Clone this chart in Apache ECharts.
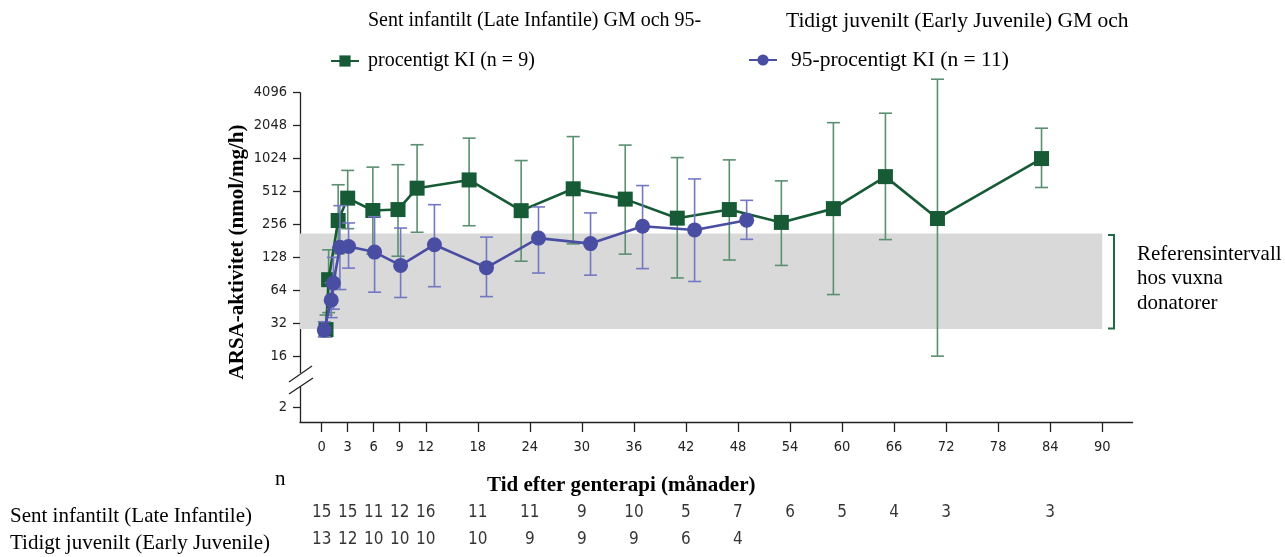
<!DOCTYPE html>
<html>
<head>
<meta charset="utf-8">
<script src="https://cdn.jsdelivr.net/npm/echarts@6/dist/echarts.min.js"></script>
<style>
  html, body { margin: 0; padding: 0; background: #fff; }
  #chart { width: 1285px; height: 557px; }
</style>
</head>
<body>
<div id="chart"></div>
<script>
// Sent infantilt (Late Infantile): tid (mån), GM och 95 % KI
var lateX  = [0.5, 0.8, 1.9, 3, 5.9, 8.8, 11, 17, 23, 29, 35, 41, 47, 53, 59, 65, 71, 83];
var lateGM = [28, 80, 278, 445, 343, 350, 549, 653, 342, 542, 436, 292, 350, 267, 357, 700, 290, 1024];
var lateLo = [24, 40, 138, 234, 137, 131, 217, 249, 118, 170, 137, 83, 121, 108, 58.5, 186, 16, 557];
var lateHi = [38, 150, 590, 798, 855, 900, 1370, 1574, 982, 1626, 1360, 1045, 996, 640, 2180, 2660, 5440, 1940];

// Tidigt juvenilt (Early Juvenile)
var earlyX  = [0.3, 1.1, 1.35, 2.1, 3.1, 6.1, 9.1, 13, 19, 25, 31, 37, 43, 49];
var earlyGM = [27.7, 52, 74.5, 158, 161, 143, 108, 167, 103, 192, 171, 246, 228, 280];
var earlyLo = [24, 36, 43, 65, 102, 61.5, 55, 69, 56, 92, 88, 101, 77, 187];
var earlyHi = [33, 75, 128, 380, 264, 301, 237, 388, 196, 370, 326, 580, 667, 425];

// referensintervall hos vuxna donatorer
var refLow = 28.4;
var refHigh = 211;

// axlar
var xTicks = [0, 3, 6, 9, 12, 18, 24, 30, 36, 42, 48, 54, 60, 66, 72, 78, 84, 90];
var yTicks = [2, 16, 32, 64, 128, 256, 512, 1024, 2048, 4096];

// antal (n) per tidpunkt
var nRows = ['Sent infantilt (Late Infantile)', 'Tidigt juvenilt (Early Juvenile)'];
var nLateX = [0, 3, 6, 9, 12, 18, 24, 30, 36, 42, 48, 54, 60, 66, 72, 84];
var nLate  = [15, 15, 11, 12, 16, 11, 11, 9, 10, 5, 7, 6, 5, 4, 3, 3];
var nEarlyX = [0, 3, 6, 9, 12, 18, 24, 30, 36, 42, 48];
var nEarly  = [13, 12, 10, 10, 10, 10, 9, 9, 9, 6, 4];

var nameLate = 'Sent infantilt (Late Infantile) GM och 95-procentigt KI (n = 9)';
var nameEarly = 'Tidigt juvenilt (Early Juvenile) GM och 95-procentigt KI (n = 11)';

var GREEN = '#165b36', GREEN_EB = '#5b8f70';
var BLUE = '#4a4ea3', BLUE_EB = '#7478c2';
var SERIF = "'Liberation Serif', 'Times New Roman', serif";
var NARROW = "'DejaVu Sans Condensed', 'Liberation Sans Narrow', 'Open Sans', sans-serif";

var breakPos = 2.44;   // där "2" ritas under axelbrottet
function lg(v) { return Math.log(v) / Math.LN2; }
function yPos(v) { return v >= 16 ? lg(v) : breakPos; }

function pts(xs, ys) {
    var out = [];
    for (var i = 0; i < xs.length; i++) out.push([xs[i], lg(ys[i])]);
    return out;
}
function bars(xs, lo, hi) {
    var out = [];
    for (var i = 0; i < xs.length; i++) out.push([xs[i], lg(lo[i]), lg(hi[i])]);
    return out;
}
function nPts(xs, vals, row) {
    var out = [];
    for (var i = 0; i < xs.length; i++) out.push([xs[i], row, vals[i]]);
    return out;
}
function errBar(color) {
    return function (params, api) {
        var x = api.value(0);
        var top = api.coord([x, api.value(2)]);
        var bot = api.coord([x, api.value(1)]);
        var w = 6.5;
        var st = { stroke: color, lineWidth: 1.6 };
        return {
            type: 'group',
            children: [
                { type: 'line', shape: { x1: top[0], y1: top[1], x2: bot[0], y2: bot[1] }, style: st },
                { type: 'line', shape: { x1: top[0] - w, y1: top[1], x2: top[0] + w, y2: top[1] }, style: st },
                { type: 'line', shape: { x1: bot[0] - w, y1: bot[1], x2: bot[0] + w, y2: bot[1] }, style: st }
            ]
        };
    };
}

var chart = echarts.init(document.getElementById('chart'));

var option = {
    animation: false,
    grid: [
        { left: 300, top: 92.7, width: 832.6, height: 329.3 },
        { left: 300, top: 503, width: 832.6, height: 64 }
    ],
    xAxis: [
        {
            type: 'value', gridIndex: 0, min: -2.5, max: 93.5,
            splitLine: { show: false },
            axisLine: { onZero: false, lineStyle: { color: '#222', width: 1.3 } },
            axisTick: { customValues: xTicks, length: 10, lineStyle: { color: '#222', width: 1.3 } },
            axisLabel: { customValues: xTicks, margin: 18, color: '#222', fontSize: 14.5, fontFamily: NARROW }
        },
        {
            type: 'value', gridIndex: 1, min: -2.5, max: 93.5, show: false
        }
    ],
    yAxis: [
        {
            type: 'value', gridIndex: 0, min: 2, max: 12,
            splitLine: { show: false },
            axisLine: { show: true, onZero: false, lineStyle: { color: '#222', width: 1.3 } },
            axisTick: { customValues: yTicks.map(yPos), length: 7, lineStyle: { color: '#222', width: 1.3 } },
            axisLabel: {
                customValues: yTicks.map(yPos), margin: 13, color: '#222', fontSize: 14.5, fontFamily: NARROW,
                formatter: function (v) { return v < 3 ? '2' : String(Math.round(Math.pow(2, v))); }
            }
        },
        {
            type: 'category', gridIndex: 1, data: nRows, inverse: true,
            axisLine: { show: false }, axisTick: { show: false }, splitLine: { show: false },
            axisLabel: { interval: 0, margin: 290, align: 'left', color: '#000', fontSize: 21, fontFamily: SERIF }
        }
    ],
    legend: [
        {
            data: [nameLate], left: 325, top: 46, itemWidth: 28, itemHeight: 14,
            formatter: function () { return 'procentigt KI (n = 9)'; },
            textStyle: { fontFamily: SERIF, fontSize: 20, color: '#000', padding: [0, 0, 0, 4] }
        },
        {
            data: [nameEarly], left: 743, top: 44, itemWidth: 28, itemHeight: 14,
            formatter: function () { return '95-procentigt KI (n = 11)'; },
            textStyle: { fontFamily: SERIF, fontSize: 21.5, color: '#000', padding: [0, 0, 0, 9] }
        }
    ],
    series: [
        {
            type: 'line', xAxisIndex: 0, yAxisIndex: 0, data: [], silent: true,
            markArea: {
                silent: true,
                itemStyle: { color: '#d9d9d9' },
                data: [[{ xAxis: -2.5, yAxis: lg(refHigh) }, { xAxis: 90, yAxis: lg(refLow) }]]
            }
        },
        {
            type: 'custom', name: 'eb-late', xAxisIndex: 0, yAxisIndex: 0,
            renderItem: errBar(GREEN_EB), data: bars(lateX, lateLo, lateHi), z: 3
        },
        {
            type: 'line', name: nameLate, xAxisIndex: 0, yAxisIndex: 0,
            data: pts(lateX, lateGM), symbol: 'rect', symbolSize: 15,
            itemStyle: { color: GREEN }, lineStyle: { color: GREEN, width: 2.6 }, z: 4
        },
        {
            type: 'custom', name: 'eb-early', xAxisIndex: 0, yAxisIndex: 0,
            renderItem: errBar(BLUE_EB), data: bars(earlyX, earlyLo, earlyHi), z: 5
        },
        {
            type: 'line', name: nameEarly, xAxisIndex: 0, yAxisIndex: 0,
            data: pts(earlyX, earlyGM), symbol: 'circle', symbolSize: 15,
            itemStyle: { color: BLUE }, lineStyle: { color: BLUE, width: 2.6 }, z: 6
        },
        {
            type: 'scatter', xAxisIndex: 1, yAxisIndex: 1, symbolSize: 0, silent: true,
            data: nPts(nLateX, nLate, 0).concat(nPts(nEarlyX, nEarly, 1)),
            label: {
                show: true, position: 'inside', offset: [0, -4], color: '#000', fontSize: 17, fontFamily: NARROW,
                formatter: function (p) { return String(p.value[2]); }
            }
        }
    ],
    graphic: [
        { type: 'text', left: 368, top: 11, style: { text: 'Sent infantilt (Late Infantile) GM och 95-', font: '20px ' + SERIF, fill: '#000' } },
        { type: 'text', left: 786, top: 10, style: { text: 'Tidigt juvenilt (Early Juvenile) GM och', font: '21.5px ' + SERIF, fill: '#000' } },
        { type: 'text', left: 487, top: 475, style: { text: 'Tid efter genterapi (månader)', font: 'bold 21px ' + SERIF, fill: '#000' } },
        { type: 'text', left: 275, top: 469, style: { text: 'n', font: '21px ' + SERIF, fill: '#000' } },
        {
            type: 'text', x: 238, y: 252, rotation: Math.PI / 2,
            style: { text: 'ARSA-aktivitet (nmol/mg/h)', font: 'bold 21px ' + SERIF, fill: '#000', align: 'center', verticalAlign: 'middle' }
        },
        { type: 'text', left: 1137, top: 242, style: { text: 'Referensintervall\nhos vuxna\ndonatorer', font: '21px ' + SERIF, lineHeight: 24.5, fill: '#000' } },
        // hakparentes för referensintervallet
        { type: 'polyline', shape: { points: [[1108, 235], [1114, 235], [1114, 328.5], [1108, 328.5]] }, style: { stroke: '#1e6b45', lineWidth: 2, fill: null } },
        // axelbrott
        { type: 'rect', shape: { x: 296, y: 373, width: 8, height: 14 }, style: { fill: '#fff' }, z: 100 },
        { type: 'line', shape: { x1: 289, y1: 382, x2: 312, y2: 366 }, style: { stroke: '#222', lineWidth: 1.3 }, z: 101 },
        { type: 'line', shape: { x1: 289, y1: 394, x2: 313, y2: 378 }, style: { stroke: '#222', lineWidth: 1.3 }, z: 101 }
    ]
};

chart.setOption(option);
</script>
</body>
</html>
